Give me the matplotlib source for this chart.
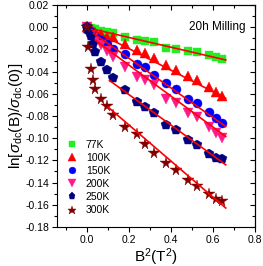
import matplotlib
matplotlib.use("Agg")
import matplotlib.pyplot as plt
import numpy as np
from matplotlib.ticker import MultipleLocator

plt.rcParams['font.family'] = ['Liberation Sans', 'DejaVu Sans']
plt.rcParams['mathtext.fontset'] = 'custom'
plt.rcParams['mathtext.rm'] = 'Liberation Sans'
plt.rcParams['mathtext.it'] = 'Liberation Sans:italic'

# B^2 values (T^2), shared by all temperatures
b2 = [0, 0.003, 0.018, 0.028, 0.038, 0.065, 0.094, 0.122, 0.18, 0.236,
      0.276, 0.318, 0.375, 0.421, 0.481, 0.521, 0.58, 0.616, 0.643]

y77 = [0, -0.0005, -0.001, -0.0015, -0.002, -0.003, -0.004, -0.005, -0.009, -0.0115,
       -0.012, -0.0135, -0.019, -0.0198, -0.0213, -0.0225, -0.025, -0.0265, -0.0285]
y100 = [0, -0.001, -0.002, -0.003, -0.004, -0.006, -0.0085, -0.009, -0.0155, -0.0205,
        -0.0235, -0.0275, -0.034, -0.039, -0.044, -0.0475, -0.0535, -0.058, -0.062]
y150 = [0, -0.002, -0.004, -0.006, -0.008, -0.0105, -0.015, -0.02, -0.0245, -0.033,
        -0.0355, -0.043, -0.0505, -0.056, -0.065, -0.0685, -0.076, -0.082, -0.086]
y200 = [0, -0.003, -0.007, -0.01, -0.013, -0.016, -0.021, -0.0265, -0.036, -0.045,
        -0.048, -0.052, -0.065, -0.0685, -0.077, -0.0805, -0.0895, -0.0955, -0.100]
y250 = [0, -0.0025, -0.0076, -0.0153, -0.0225, -0.031, -0.0385, -0.0454, -0.0565, -0.067,
        -0.0715, -0.0775, -0.088, -0.093, -0.1015, -0.106, -0.114, -0.118, -0.119]
y300 = [0, -0.018, -0.038, -0.048, -0.056, -0.065, -0.071, -0.079, -0.09, -0.096,
        -0.105, -0.113, -0.122, -0.129, -0.138, -0.143, -0.15, -0.155, -0.157]

# linear fits drawn over the high-field part: (x start, x end, y start, y end)
fit77 = [0.044, 0.66, -0.0024, -0.0295]
fit100 = [0.02, 0.66, -0.002, -0.064]
fit150 = [0.03, 0.66, -0.0055, -0.0895]
fit200 = [0.04, 0.66, -0.012, -0.0985]
fit250 = [0.106, 0.66, -0.048, -0.124]
fit300 = [0.1, 0.66, -0.0721, -0.163]

labels = ['77K', '100K', '150K', '200K', '250K', '300K']
colors = ['#22ee22', '#ff0000', '#0000ff', '#ff1a8c', '#000080', '#800000']
markers = ['s', '^', 'o', 'v', 'p', '*']
sizes = [6, 7, 6.5, 7, 7, 8.5]

fig = plt.figure(figsize=(2.63, 2.66), dpi=100)
ax = fig.add_axes([0.216, 0.147, 0.754, 0.834])

series = [y77, y100, y150, y200, y250, y300]
fits = [fit77, fit100, fit150, fit200, fit250, fit300]
for ys, lab, c, m, s in zip(series, labels, colors, markers, sizes):
    ax.plot(b2, ys, linestyle='none', marker=m, color=c, markersize=s,
            markeredgewidth=0.3, markeredgecolor=c, label=lab)
for f in fits:
    ax.plot(f[:2], f[2:], color='#ff0000', linewidth=1.2)

ax.set_xlim(-0.145, 0.8)
ax.set_ylim(-0.18, 0.02)
ax.xaxis.set_major_locator(MultipleLocator(0.2))
ax.xaxis.set_minor_locator(MultipleLocator(0.1))
ax.yaxis.set_major_locator(MultipleLocator(0.02))
ax.yaxis.set_minor_locator(MultipleLocator(0.01))
ax.xaxis.set_major_formatter(matplotlib.ticker.FormatStrFormatter('%.1f'))
ax.yaxis.set_major_formatter(matplotlib.ticker.FormatStrFormatter('%.2f'))
ax.tick_params(which='both', direction='out', labelsize=7.5, width=0.8, pad=2)
ax.tick_params(which='major', length=3.5)
ax.tick_params(which='minor', length=2)

top = ax.secondary_xaxis('top')
top.xaxis.set_major_locator(MultipleLocator(0.2))
top.xaxis.set_minor_locator(MultipleLocator(0.1))
top.tick_params(which='both', direction='in', labeltop=False, width=0.8)
top.tick_params(which='major', length=3.5)
top.tick_params(which='minor', length=2)
right = ax.secondary_yaxis('right')
right.yaxis.set_major_locator(MultipleLocator(0.02))
right.yaxis.set_minor_locator(MultipleLocator(0.01))
right.tick_params(which='both', direction='in', labelright=False, width=0.8)
right.tick_params(which='major', length=3.5)
right.tick_params(which='minor', length=2)
for sp in ax.spines.values():
    sp.set_linewidth(0.8)

ax.set_xlabel(r'B$^2$(T$^2$)', fontsize=11, labelpad=1)
ax.set_ylabel(r'ln[$\sigma_{\rm dc}$(B)/$\sigma_{\rm dc}$(0)]', fontsize=11, labelpad=0)
ax.text(0.95, 0.9, '20h Milling', transform=ax.transAxes, ha='right', va='center',
        fontsize=8.5)

ax.legend(loc='lower left', bbox_to_anchor=(0.01, 0.02), frameon=False, fontsize=7.5,
          handletextpad=0.7, labelspacing=0.3, handlelength=1.2, borderaxespad=0.3,
          markerscale=0.75)

fig.savefig('out.png', dpi=100)
